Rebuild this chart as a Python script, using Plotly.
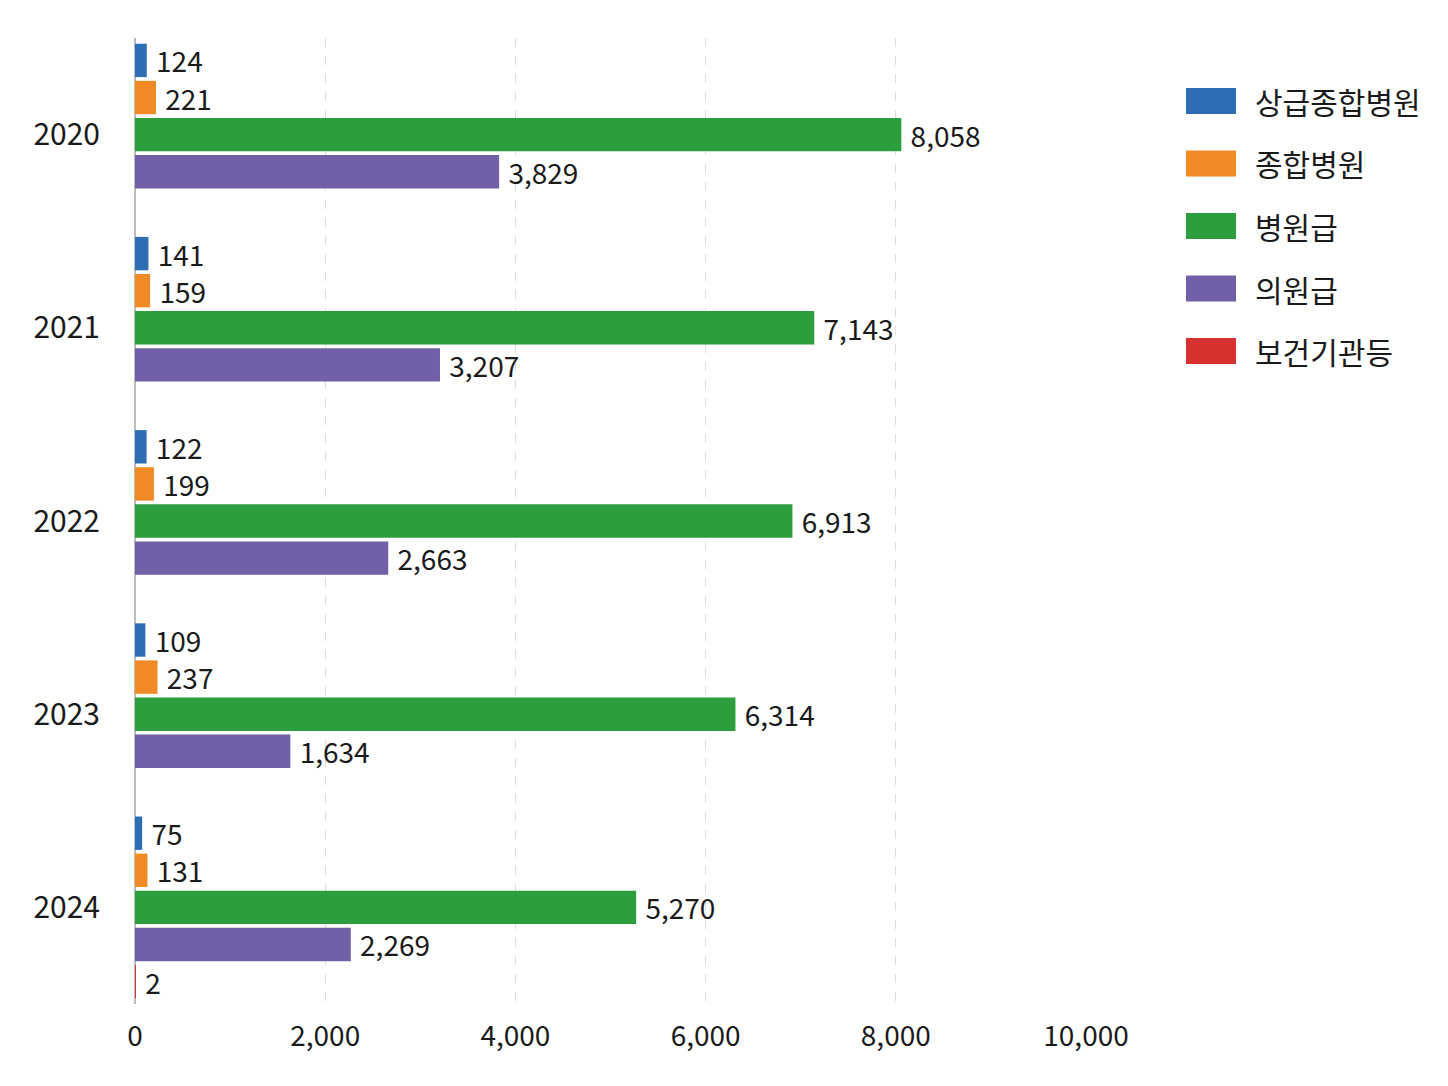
import plotly.graph_objects as go

years = ["2020", "2021", "2022", "2023", "2024"]
series_names = ["상급종합병원", "종합병원", "병원급", "의원급", "보건기관등"]
tertiary = [124, 141, 122, 109, 75]
general = [221, 159, 199, 237, 131]
hospital = [8058, 7143, 6913, 6314, 5270]
clinic = [3829, 3207, 2663, 1634, 2269]
health_center = [None, None, None, None, 2]
x_ticks = [0, 2000, 4000, 6000, 8000, 10000]

colors = ["#2c6db4", "#f08a24", "#2c9e3d", "#7160a8", "#d6302f"]
FONT = "Noto Sans CJK KR"

# page has an 8px body margin, so the figure is 16px smaller than the window
W, H = 1432, 1070
L, R, T, B = 127, 354, 30, 74
OFF = 8


def px_x(px):
    return (px - OFF - L) / (W - L - R)


def px_y(py):
    return (H - B - (py - OFF)) / (H - T - B)


fig = go.Figure()
for name, vals, col in zip(series_names,
                           [tertiary, general, hospital, clinic, health_center],
                           colors):
    fig.add_trace(go.Bar(
        y=years, x=vals, name=name, orientation="h",
        marker=dict(color=col, line=dict(width=0)),
        text=[f" {v:,}" if v is not None else "" for v in vals],
        textposition="outside", constraintext="none",
        textfont=dict(size=28, color="#1a1a1a", family=FONT),
        cliponaxis=False,
    ))

# legend drawn by hand to get the large swatches
for i, (name, col) in enumerate(zip(series_names, colors)):
    cy = 101 + i * 62.5
    fig.add_shape(type="rect", xref="paper", yref="paper",
                  x0=px_x(1186), x1=px_x(1236),
                  y0=px_y(cy + 13), y1=px_y(cy - 13),
                  fillcolor=col, line=dict(width=0))
    fig.add_annotation(xref="paper", yref="paper", x=px_x(1253), y=px_y(cy),
                       text=name, showarrow=False, xanchor="left", yanchor="middle",
                       font=dict(size=30, color="#1a1a1a", family=FONT))

fig.update_layout(
    width=W, height=H,
    margin=dict(l=L, r=R, t=T, b=B),
    barmode="group", bargap=0.04, bargroupgap=0.1,
    plot_bgcolor="white", paper_bgcolor="white",
    showlegend=False,
    font=dict(family=FONT, color="#1a1a1a"),
    xaxis=dict(
        range=[0, 10000], tickvals=x_ticks,
        ticktext=[f"{v:,}" for v in x_ticks],
        tickfont=dict(size=28), showgrid=True, gridcolor="#dcdcdc",
        griddash="dash", gridwidth=1, zeroline=True, zerolinecolor="#bdbdbd",
        zerolinewidth=1.5, showline=False, ticks="", ticklabelstandoff=13,
    ),
    yaxis=dict(
        autorange="reversed", tickfont=dict(size=30), showgrid=False,
        ticks="", ticklabelstandoff=34, showline=False,
    ),
)

fig.write_html("out.html")
